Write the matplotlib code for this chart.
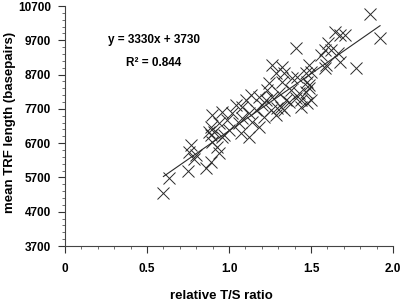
import matplotlib
matplotlib.use("Agg")
import matplotlib.pyplot as plt
import numpy as np
from matplotlib.ticker import FixedLocator, MultipleLocator

plt.rcParams['font.family'] = ['Liberation Sans', 'DejaVu Sans']
plt.rcParams['font.weight'] = 'bold'

# relative T/S ratio vs mean TRF length (bp)
ts_ratio = [
    1.861, 1.921, 1.648, 1.679, 1.709, 1.606, 1.588, 1.624, 1.667, 1.564,
    1.679, 1.594, 1.588, 1.776, 1.485, 1.497, 1.406, 1.467, 1.485,
    1.261, 1.321, 1.333, 1.285, 1.321, 1.242, 1.412, 1.382, 1.473, 1.485,
    1.467, 1.376, 1.406, 1.436, 1.473, 1.364, 1.315, 1.442, 1.261, 1.230,
    1.303, 1.285, 1.255, 1.224, 1.200, 1.212, 1.182, 1.164, 1.133, 1.103,
    1.079, 1.121, 1.079, 1.061, 1.018, 1.042, 0.988, 0.958, 0.939, 0.897,
    1.000, 1.139, 1.182, 0.958, 1.073, 1.121, 0.891,
    0.600, 0.636, 0.752, 0.770, 0.758, 0.800, 0.788, 0.861, 0.891, 0.891,
    0.897, 0.939, 0.927, 0.970, 0.879, 0.909,
    1.333, 1.291, 1.345, 1.424, 1.497,
]
trf_length = [
    10467, 9767, 9942, 9855, 9855, 9621, 9417, 9417, 9330, 9271,
    9067, 8980, 8892, 8892, 8980, 8775, 9475, 8746, 8396,
    8980, 8921, 8746, 8746, 8484, 8455, 8630, 8600, 8484, 8309,
    8192, 8250, 8017, 7959, 7871, 7900, 7755, 7755, 8046, 8250,
    8163, 7521, 7667, 7959, 7813, 7463, 8046, 7667, 8104, 7959,
    7755, 7580, 7434, 7288, 7580, 7813, 7375, 7609, 7288, 7521,
    7084, 7317, 7171, 6880, 6996, 6880, 7171,
    5246, 5684, 5888, 6646, 6442, 6354, 6238, 5975, 6150, 6938,
    6734, 6413, 6588, 6938, 7025, 7025,
    7667, 7725, 7959, 8163, 7959,
]

x_ticks = [0, 0.5, 1.0, 1.5, 2.0]
x_ticklabels = ['0', '0.5', '1.0', '1.5', '2.0']
y_ticks = [3700, 4700, 5700, 6700, 7700, 8700, 9700, 10700]

slope = 3330
intercept = 3730
r_squared = 0.844

fig = plt.figure(figsize=(4.0, 3.03), dpi=100)
ax = fig.add_axes([0.1625, 0.188, 0.82, 0.792])

ax.plot(ts_ratio, trf_length, linestyle='none', marker='x', markersize=8.5,
        markeredgewidth=0.7, color='#2a2a2a')

x_fit = np.array([min(ts_ratio), max(ts_ratio)])
ax.plot(x_fit, slope * x_fit + intercept, color='#2a2a2a', linewidth=0.8)

ax.set_xlim(0, 2.0)
ax.set_ylim(3700, 10700)
ax.set_xticks(x_ticks)
ax.set_xticklabels(x_ticklabels)
ax.xaxis.set_minor_locator(MultipleLocator(0.1))
ax.yaxis.set_major_locator(FixedLocator(y_ticks))
ax.yaxis.set_minor_locator(MultipleLocator(200, offset=100))
ax.tick_params(axis='both', which='major', direction='out', length=5,
               width=0.8, labelsize=8.5, pad=5, colors='#333333')
ax.tick_params(axis='both', which='minor', direction='out', length=2,
               width=0.6, colors='#555555')
ax.tick_params(axis='x', which='major', pad=7)
for lab in ax.get_xticklabels() + ax.get_yticklabels():
    lab.set_color('black')
    lab.set_fontweight('bold')

for side in ['top', 'right']:
    ax.spines[side].set_visible(False)
for side in ['left', 'bottom']:
    ax.spines[side].set_linewidth(0.8)
    ax.spines[side].set_color('#444444')

ax.set_xlabel('relative T/S ratio', fontsize=9.5, fontweight='bold')
ax.set_ylabel('mean TRF length (basepairs)', fontsize=9.5, fontweight='bold')
ax.xaxis.set_label_coords(0.477, -0.183)
ax.yaxis.set_label_coords(-0.148, 0.517)

ax.text(0.543, 9709, 'y = %dx + %d' % (slope, intercept), fontsize=8.5,
        fontweight='bold', ha='center', va='center')
ax.text(0.543, 9038, 'R\u00b2 = %.3f' % r_squared, fontsize=8.5,
        fontweight='bold', ha='center', va='center')

fig.savefig('out.png', dpi=100)
